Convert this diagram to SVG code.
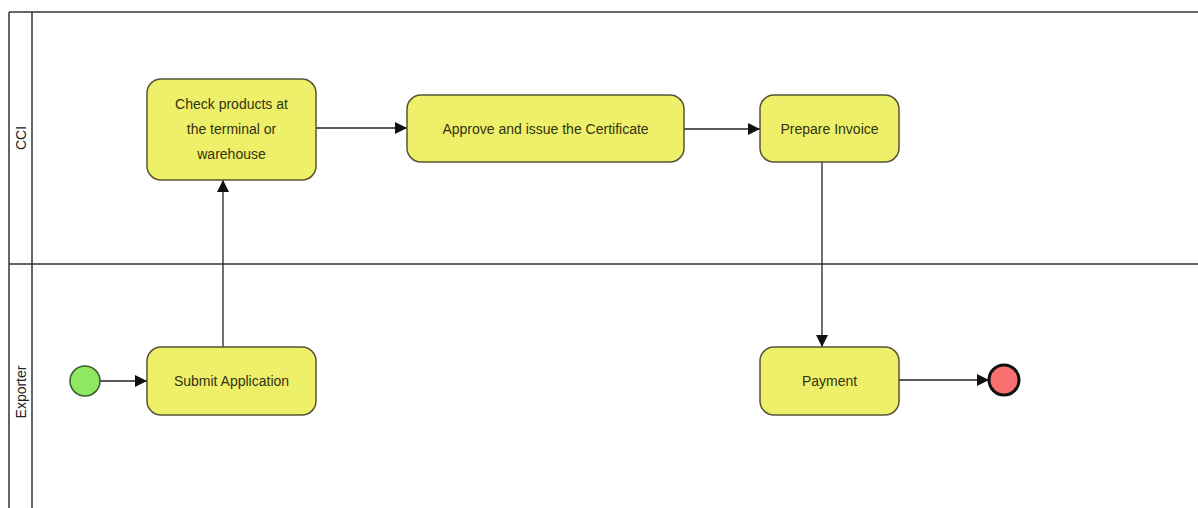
<svg xmlns="http://www.w3.org/2000/svg" width="1198" height="508" viewBox="0 0 1198 508">
<style>
.lane{stroke:#333;stroke-width:1.5;fill:none}
.task{fill:#eef06a;stroke:#555535;stroke-width:1.5}
.t{font-family:"Liberation Sans",Arial,sans-serif;font-size:14px;fill:#333310;text-anchor:middle;dominant-baseline:central}
.lt{font-family:"Liberation Sans",Arial,sans-serif;font-size:14px;fill:#222;text-anchor:middle;dominant-baseline:central}
.c{stroke:#222;stroke-width:1.3;fill:none;marker-end:url(#arr)}
</style>
<defs>
<marker id="arr" viewBox="0 0 10 10" refX="10" refY="5" markerWidth="12" markerHeight="12" markerUnits="userSpaceOnUse" orient="auto">
<path d="M0,0 L10,5 L0,10 z" fill="#111"/>
</marker>
</defs>
<g id="pool">
<line class="lane" x1="9" y1="12" x2="1198" y2="12"/>
<line class="lane" x1="9" y1="12" x2="9" y2="508"/>
<line class="lane" x1="32" y1="12" x2="32" y2="508"/>
<line class="lane" x1="9" y1="264" x2="1198" y2="264"/>
<text class="lt" transform="translate(21,138) rotate(-90)">CCI</text>
<text class="lt" transform="translate(21,392) rotate(-90)">Exporter</text>
</g>
<g id="connectors">
<line class="c" x1="100" y1="381" x2="147" y2="381"/>
<line class="c" x1="223" y1="347" x2="223" y2="180"/>
<line class="c" x1="316" y1="128" x2="407" y2="128"/>
<line class="c" x1="684" y1="129" x2="760" y2="129"/>
<line class="c" x1="822" y1="162" x2="822" y2="347"/>
<line class="c" x1="899" y1="380" x2="989" y2="380"/>
</g>
<g id="start"><circle cx="85" cy="381" r="15" fill="#8ee860" stroke="#3a5a2a" stroke-width="1.5"/></g>
<g id="check"><rect class="task" x="147" y="79" width="169" height="101" rx="14"/>
<text class="t" x="231.5" y="104">Check products at</text>
<text class="t" x="231.5" y="129">the terminal or</text>
<text class="t" x="231.5" y="154">warehouse</text></g>
<g id="approve"><rect class="task" x="407" y="95" width="277" height="67" rx="14"/>
<text class="t" x="545.5" y="129">Approve and issue the Certificate</text></g>
<g id="invoice"><rect class="task" x="760" y="95" width="139" height="67" rx="14"/>
<text class="t" x="829.5" y="129">Prepare Invoice</text></g>
<g id="submit"><rect class="task" x="147" y="347" width="169" height="68" rx="14"/>
<text class="t" x="231.5" y="381">Submit Application</text></g>
<g id="payment"><rect class="task" x="760" y="347" width="139" height="68" rx="14"/>
<text class="t" x="829.5" y="381">Payment</text></g>
<g id="end"><circle cx="1004" cy="380" r="15" fill="#f87070" stroke="#111" stroke-width="3"/></g>
</svg>
